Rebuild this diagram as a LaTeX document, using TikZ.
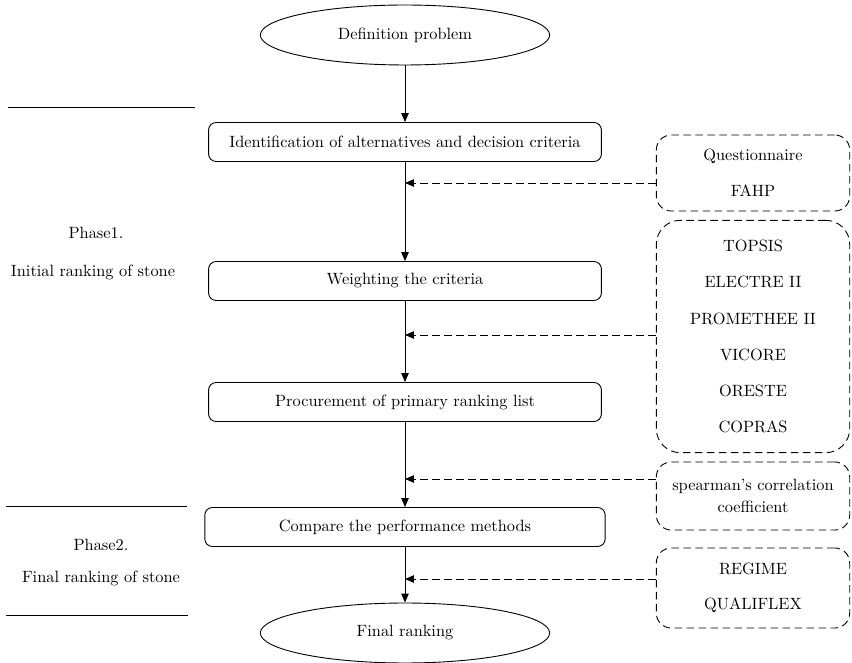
\documentclass[tikz,border=0pt]{standalone}
\usepackage{tikz}
\usetikzlibrary{shapes.geometric,arrows.meta}

\begin{document}
\begin{tikzpicture}[x=0.667pt,y=-0.667pt,
	every node/.style={font=\fontsize{10.9}{13.1}\selectfont},
	endpoint/.style={shape=ellipse,draw=black,line width=0.6pt,minimum width=193pt,minimum height=40pt,inner sep=0pt},
	stepbox/.style={shape=rectangle,draw=black,line width=0.6pt,rounded corners=5pt,minimum width=262pt,minimum height=26pt},
	methodbox/.style={shape=rectangle,draw=black,line width=0.6pt,dash pattern=on 5pt off 3pt,rounded corners=10pt,minimum width=129pt,align=center},
	flowarrow/.style={-{Triangle[length=6pt,width=5pt]},line width=0.6pt},
	feedarrow/.style={-{Triangle[length=6pt,width=5pt]},line width=0.6pt,dash pattern=on 5pt off 3pt}]
	
	\useasboundingbox (0,0) rectangle (852,663);
	
	% main flow
	\node[endpoint] (def) at (405, 35)     {Definition problem};
	\node[stepbox] (ident) at (405, 142)     {Identification of alternatives and decision criteria};
	\node[stepbox] (weight) at (405, 281)     {Weighting the criteria};
	\node[stepbox] (procure) at (405, 402)     {Procurement of primary ranking list};
	\node[stepbox,minimum width=267pt] (compare) at (405, 527)     {Compare the performance methods};
	\node[endpoint] (final) at (405, 633)     {Final ranking};
	
	% methods
	\node[methodbox,minimum height=50.7pt] (quest) at (753, 173)     {Questionnaire\\[11pt]FAHP};
	\node[methodbox,minimum height=155pt,rounded corners=16pt] (mcdm) at (753, 336.5)     {TOPSIS\\[11pt]ELECTRE II\\[11pt]PROMETHEE II\\[11pt]VICORE\\[11pt]ORESTE\\[11pt]COPRAS};
	\node[methodbox,minimum height=45.4pt] (spear) at (753, 496)     {spearman's correlation\\[1.6pt]coefficient};
	\node[methodbox,minimum height=53.4pt] (merge) at (753, 588)     {REGIME\\[10pt]QUALIFLEX};
	
	% phases
	\node (ph1) at (96, 233)     {Phase1.};
	\node (ph1t) at (93, 272)     {Initial ranking of stone};
	\node (ph2) at (101, 545)     {Phase2.};
	\node (ph2t) at (101, 578)     {Final ranking of stone};
	\draw[line width=0.6pt] (8, 107) -- (195, 107);
	\draw[line width=0.6pt] (6, 506) -- (187, 506);
	\draw[line width=0.6pt] (6, 615) -- (188, 615);
	
	\coordinate (j1) at (405, 183);
	\coordinate (j2) at (405, 335);
	\coordinate (j3) at (405, 479);
	\coordinate (j4) at (405, 579);
	
	\path[flowarrow] (def) edge (ident);
	\path[flowarrow] (ident) edge (weight);
	\path[flowarrow] (weight) edge (procure);
	\path[flowarrow] (procure) edge (compare);
	\path[flowarrow] (compare) edge (final);
	\draw[feedarrow] (quest.west |- j1) -- (j1);
	\draw[feedarrow] (mcdm.west |- j2) -- (j2);
	\draw[feedarrow] (spear.west |- j3) -- (j3);
	\draw[feedarrow] (merge.west |- j4) -- (j4);
	\end{tikzpicture}
\end{document}
